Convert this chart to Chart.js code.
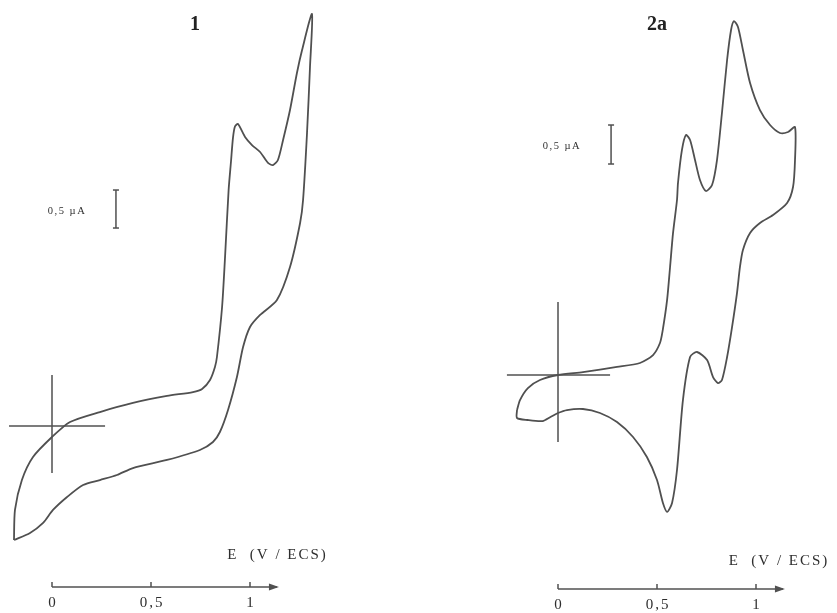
<!DOCTYPE html>
<html><head><meta charset="utf-8">
<script src="https://cdn.jsdelivr.net/npm/chart.js@4"></script>
<style>
body{margin:0;background:#fff;width:837px;height:613px;overflow:hidden;position:relative}
canvas{position:absolute;top:0}
</style></head><body>
<canvas id="c1" width="418" height="613" style="left:0"></canvas>
<canvas id="c2" width="419" height="613" style="left:418px"></canvas>
<script>
// ---- Data: cyclic voltammograms (E in V vs ECS, I in µA) ----
const p1E = [-0.192,-0.187,-0.152,-0.096,0,0.091,0.242,0.409,0.581,0.712,0.758,0.798,0.823,0.833,0.859,0.874,0.892,0.904,0.914,0.924,0.939,0.975,1.010,1.051,1.091,1.116,1.141,1.167,1.202,1.237,1.263,1.313,
             1.303,1.288,1.268,1.253,1.202,1.136,1.051,1.000,0.965,0.934,0.889,0.848,0.813,0.747,0.581,0.409,0.328,0.242,0.157,0.076,0.005,-0.045,-0.111,-0.192];
const p1I = [-1.50,-1.105,-0.711,-0.408,-0.145,0.053,0.184,0.303,0.395,0.447,0.487,0.605,0.776,0.908,1.566,2.224,3.105,3.480,3.790,3.940,3.974,3.803,3.697,3.605,3.461,3.434,3.500,3.763,4.158,4.645,4.947,5.421,
             4.724,3.855,2.974,2.671,2.092,1.658,1.461,1.303,1.039,0.645,0.211,-0.079,-0.211,-0.316,-0.447,-0.553,-0.645,-0.711,-0.776,-0.934,-1.105,-1.276,-1.408,-1.50];

const p2E = [-0.207,-0.192,-0.152,-0.091,0,0.126,0.298,0.414,0.480,0.515,0.528,0.551,0.566,0.581,0.601,0.606,0.626,0.646,0.667,0.692,0.717,0.747,0.778,0.803,0.828,0.854,0.874,0.889,0.909,0.934,0.970,1.020,1.071,1.121,1.162,1.197,
             1.197,1.187,1.157,1.086,1.020,0.970,0.934,0.919,0.904,0.879,0.854,0.828,0.808,0.783,0.753,0.702,0.667,0.631,0.601,0.576,0.551,0.530,0.500,0.449,0.379,0.298,0.212,0.126,0.045,0,-0.038,-0.078,-0.154,-0.207,-0.207];
const p2I = [-0.449,-0.321,-0.167,-0.064,0,0.038,0.103,0.154,0.256,0.410,0.560,0.962,1.385,1.821,2.244,2.462,2.885,3.077,3.013,2.756,2.500,2.359,2.436,2.756,3.359,4.038,4.423,4.538,4.462,4.167,3.744,3.397,3.205,3.103,3.115,3.179,
             2.756,2.410,2.205,2.051,1.949,1.821,1.603,1.385,1.051,0.615,0.231,-0.064,-0.103,-0.026,0.192,0.295,0.231,-0.321,-1.218,-1.641,-1.756,-1.641,-1.346,-1.051,-0.795,-0.603,-0.487,-0.436,-0.449,-0.487,-0.538,-0.590,-0.577,-0.551,-0.449];

const tickValues = [0, 0.5, 1];
const tickLabels = ['0', '0,5', '1'];
const axisEndE = 1.136;
const p1CrossE = [-0.217, 0.268], p1CrossI = [0.671, -0.618];
const p2CrossE = [-0.258, 0.263], p2CrossI = [0.936, -0.859];
const p1BarE = 0.323, p1BarI = [3.105, 2.605];
const p2BarE = 0.268, p2BarI = [3.205, 2.705];
const panelTitles = ['1', '2a'];
const barLabel = '0,5 \u00b5A';
const axisTitle = 'E  (V / ECS)';

// ---- Layout (scale windows and text anchors, in data units) ----
const layout1 = {xMin:-52/198, xMax:(418-52)/198, yMin:(426-613)/76, yMax:426/76,
  axisI:-2.118, tickLabelI:-2.33, titleAt:[0.722,5.276], axisTitleAt:[1.139,-1.70], barLabelAt:[0.076,2.83]};
const layout2 = {xMin:-(558-418)/198, xMax:(837-558)/198, yMin:(375-613)/78, yMax:375/78,
  axisI:-2.744, tickLabelI:-2.95, titleAt:[0.500,4.487], axisTitleAt:[1.116,-2.38], barLabelAt:[0.020,2.936]};

const INK = '#505050';

function pts(E, I){ return E.map((e,i)=>({x:e, y:I[i]})); }

function makePanel(id, E, I, cE, cI, bE, bI, title, L){
  const line = (data, w) => ({data, showLine:true, borderColor:INK, borderWidth:w, pointRadius:0, tension:0, fill:false});
  const curve = line(pts(E,I), 1.8); curve.tension = 0.25;
  const deco = {
    id:'deco',
    afterDatasetsDraw(chart){
      const ctx = chart.ctx, xs = chart.scales.x, ys = chart.scales.y;
      const X = v => xs.getPixelForValue(v), Y = v => ys.getPixelForValue(v);
      ctx.save();
      ctx.strokeStyle = INK; ctx.fillStyle = INK; ctx.lineWidth = 1.5;
      // scale bar caps
      bI.forEach(v => { ctx.beginPath(); ctx.moveTo(X(bE)-3, Y(v)); ctx.lineTo(X(bE)+3, Y(v)); ctx.stroke(); });
      // axis ticks
      const ay = Y(L.axisI);
      tickValues.forEach(v => { ctx.beginPath(); ctx.moveTo(X(v), ay); ctx.lineTo(X(v), ay-5); ctx.stroke(); });
      // arrow head
      const ax = X(axisEndE);
      ctx.beginPath(); ctx.moveTo(ax+2, ay); ctx.lineTo(ax-8, ay-3.5); ctx.lineTo(ax-8, ay+3.5); ctx.closePath(); ctx.fill();
      // texts
      ctx.fillStyle = '#2e2e2e';
      ctx.textAlign = 'center'; ctx.textBaseline = 'middle';
      try { ctx.letterSpacing = '2px'; } catch(e) {}
      ctx.font = '15px "Liberation Serif", serif';
      tickValues.forEach((v,i) => ctx.fillText(tickLabels[i], X(v)+1, Y(L.tickLabelI)));
      ctx.fillText(axisTitle, X(L.axisTitleAt[0]), Y(L.axisTitleAt[1]));
      try { ctx.letterSpacing = '1.5px'; } catch(e) {}
      ctx.font = '10.5px "Liberation Serif", serif';
      ctx.fillText(barLabel, X(L.barLabelAt[0]), Y(L.barLabelAt[1]));
      try { ctx.letterSpacing = '0px'; } catch(e) {}
      ctx.fillStyle = '#222';
      ctx.font = 'bold 20px "Liberation Serif", serif';
      ctx.fillText(title, X(L.titleAt[0]), Y(L.titleAt[1]));
      ctx.restore();
    }
  };
  return new Chart(document.getElementById(id), {
    type:'scatter',
    data:{datasets:[
      curve,
      line([{x:cE[0],y:0},{x:cE[1],y:0}], 1.5),
      line([{x:0,y:cI[0]},{x:0,y:cI[1]}], 1.5),
      line([{x:bE,y:bI[0]},{x:bE,y:bI[1]}], 1.5),
      line([{x:0,y:L.axisI},{x:axisEndE,y:L.axisI}], 1.5)
    ]},
    options:{
      responsive:false, animation:false, maintainAspectRatio:false,
      layout:{padding:0},
      plugins:{legend:{display:false}, tooltip:{enabled:false}, title:{display:false}},
      scales:{
        x:{type:'linear', display:false, min:L.xMin, max:L.xMax},
        y:{type:'linear', display:false, min:L.yMin, max:L.yMax}
      }
    },
    plugins:[deco]
  });
}

makePanel('c1', p1E, p1I, p1CrossE, p1CrossI, p1BarE, p1BarI, panelTitles[0], layout1);
makePanel('c2', p2E, p2I, p2CrossE, p2CrossI, p2BarE, p2BarI, panelTitles[1], layout2);
</script>
</body></html>
